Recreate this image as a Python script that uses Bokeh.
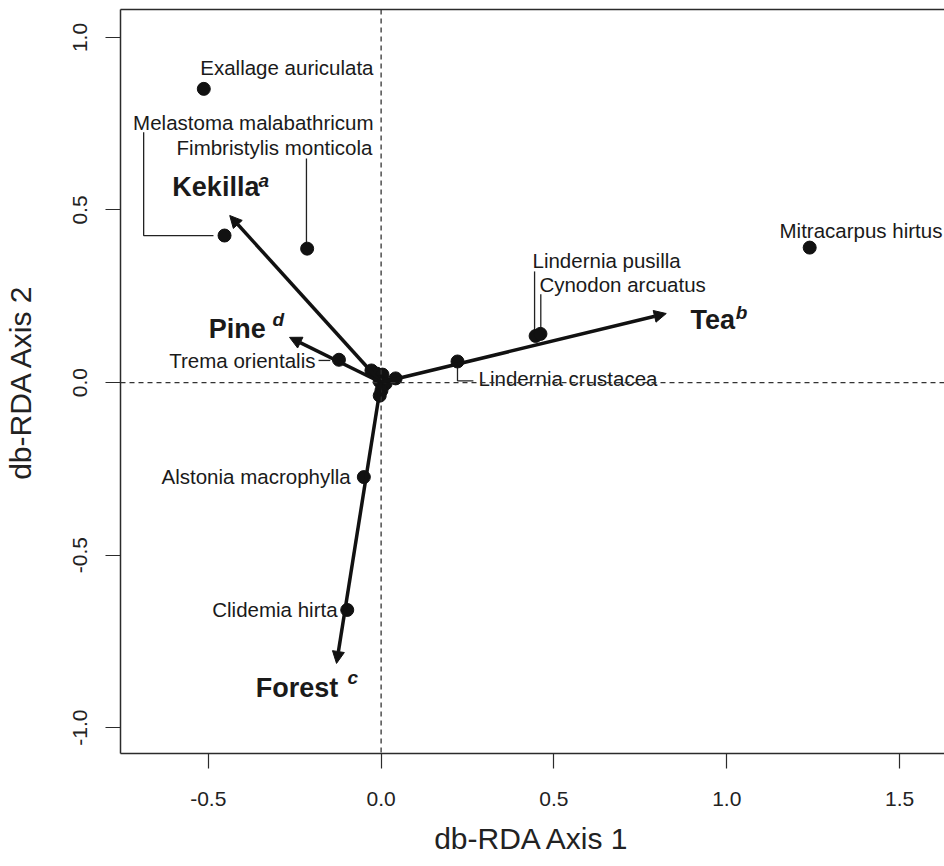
from bokeh.plotting import figure
from bokeh.models import (ColumnDataSource, Span, Arrow, NormalHead, LinearAxis,
                          FixedTicker, Range1d)
from bokeh.core.properties import value
from bokeh.embed import file_html
from bokeh.resources import INLINE

# ---------------- data ----------------
species = ["Exallage auriculata", "Melastoma malabathricum", "Fimbristylis monticola",
           "Mitracarpus hirtus", "Lindernia pusilla", "Cynodon arcuatus",
           "Lindernia crustacea", "Trema orientalis", "Alstonia macrophylla",
           "Clidemia hirta"]
sp_x = [-0.513, -0.453, -0.214, 1.240, 0.447, 0.461, 0.221, -0.122, -0.050, -0.098]
sp_y = [0.851, 0.426, 0.388, 0.391, 0.135, 0.141, 0.061, 0.066, -0.274, -0.659]

# unlabelled species scores close to the origin
other_x = [-0.028, -0.013, 0.004, -0.004, 0.013, 0.001, -0.004, 0.042]
other_y = [0.035, 0.026, 0.023, 0.003, -0.003, -0.023, -0.038, 0.012]

# land-use vectors
sites = ["Kekilla", "Pine", "Tea", "Forest"]
site_sup = ["a", "d", "b", "c"]
site_x = [-0.438, -0.265, 0.825, -0.129]
site_y = [0.484, 0.131, 0.200, -0.814]

x_ticks = [-0.5, 0.0, 0.5, 1.0, 1.5]
x_tick_labels = ["-0.5", "0.0", "0.5", "1.0", "1.5"]
y_ticks = [-1.0, -0.5, 0.0, 0.5, 1.0]
y_tick_labels = ["-1.0", "-0.5", "0.0", "0.5", "1.0"]

x_title = "db-RDA Axis 1"
y_title = "db-RDA Axis 2"

# ---------------- label layout ----------------
FONT = "Liberation Sans"
YPX = 345.0  # pixels per data unit (vertical), used for text baseline correction


def up(fs):
    return 0.4 * fs / YPX


# label anchor (x, baseline y, align)
lab_layout = {
    "Exallage auriculata": (-0.022, 0.890, "right"),
    "Melastoma malabathricum": (-0.022, 0.730, "right"),
    "Fimbristylis monticola": (-0.025, 0.658, "right"),
    "Mitracarpus hirtus": (1.624, 0.417, "right"),
    "Lindernia pusilla": (0.438, 0.330, "left"),
    "Cynodon arcuatus": (0.458, 0.261, "left"),
    "Lindernia crustacea": (0.282, -0.011, "left"),
    "Trema orientalis": (-0.190, 0.041, "right"),
    "Alstonia macrophylla": (-0.088, -0.295, "right"),
    "Clidemia hirta": (-0.126, -0.681, "right"),
}
# site label anchors: (left x, baseline y) and superscript (left x, baseline y)
site_lab = [(-0.604, 0.536), (-0.499, 0.125), (0.895, 0.151), (-0.363, -0.916)]
site_suplab = [(-0.355, 0.562), (-0.314, 0.160), (1.026, 0.181), (-0.097, -0.878)]

pt = dict(zip(species, zip(sp_x, sp_y)))


def leaders():
    xs, ys = [], []
    px, py = pt["Melastoma malabathricum"]
    xs.append([-0.687, -0.687, px - 0.032]); ys.append([0.725, py, py])
    px, py = pt["Fimbristylis monticola"]
    xs.append([px - 0.002, px - 0.002]); ys.append([0.649, py + 0.01])
    px, py = pt["Lindernia pusilla"]
    xs.append([px - 0.003, px - 0.003]); ys.append([0.322, py + 0.005])
    px, py = pt["Cynodon arcuatus"]
    xs.append([px + 0.001, px + 0.001]); ys.append([0.256, py + 0.014])
    px, py = pt["Lindernia crustacea"]
    xs.append([px, px, 0.267]); ys.append([py - 0.019, 0.005, 0.005])
    px, py = pt["Trema orientalis"]
    xs.append([-0.181, px - 0.025]); ys.append([py - 0.002, py - 0.002])
    return xs, ys


# ---------------- figure ----------------
p = figure(width=944, height=866,
           x_range=Range1d(-0.754, 1.630), y_range=Range1d(-1.075, 1.081),
           output_backend="svg", toolbar_location=None,
           min_border_left=120, min_border_right=0, min_border_top=9,
           min_border_bottom=113)
p.grid.visible = False
p.outline_line_color = None
p.background_fill_color = "white"
p.border_fill_color = "white"

AX = "#2b2b2b"
for ax in (p.xaxis[0], p.yaxis[0]):
    ax.axis_line_color = AX
    ax.axis_line_width = 1.5
    ax.major_tick_line_color = AX
    ax.major_tick_line_width = 1.2
    ax.major_tick_out = 15
    ax.major_tick_in = 0
    ax.minor_tick_line_color = None
    ax.major_label_text_font = FONT
    ax.major_label_text_font_size = "21px"
    ax.major_label_text_color = "#222222"
    ax.axis_label_text_font = FONT
    ax.axis_label_text_font_size = "30px"
    ax.axis_label_text_font_style = "normal"
    ax.axis_label_text_color = "#222222"

p.xaxis.ticker = FixedTicker(ticks=x_ticks)
p.xaxis.major_label_overrides = dict(zip(x_ticks, x_tick_labels))
p.yaxis.ticker = FixedTicker(ticks=y_ticks)
p.yaxis.major_label_overrides = dict(zip(y_ticks, y_tick_labels))
p.yaxis.major_label_orientation = "vertical"
p.xaxis.axis_label = x_title
p.yaxis.axis_label = y_title
p.xaxis.major_label_standoff = 23
p.xaxis.axis_label_standoff = 13
p.yaxis.major_label_standoff = 18
p.yaxis.axis_label_standoff = 34

# top border of the box
top = LinearAxis(ticker=FixedTicker(ticks=[]), axis_line_color=AX, axis_line_width=1.5,
                 major_tick_out=0, major_tick_in=0, minor_tick_out=0, minor_tick_in=0,
                 major_label_text_font_size="0px")
p.add_layout(top, "above")

# dashed zero lines
for dim in ("height", "width"):
    p.add_layout(Span(location=0, dimension=dim, line_color="#333333",
                      line_width=1.3, line_dash="5 4"))

# arrows
asrc = ColumnDataSource(dict(x=site_x, y=site_y))
p.add_layout(Arrow(end=NormalHead(size=12, fill_color="#111111", line_color="#111111",
                                  line_width=1),
                   x_start=0, y_start=0, x_end="x", y_end="y", source=asrc,
                   line_color="#111111", line_width=3.5))

# leader lines
lx, ly = leaders()
p.multi_line(lx, ly, line_color="#222222", line_width=1.3)

# points
p.scatter(other_x, other_y, size=13, color="#111111")
p.scatter(sp_x, sp_y, size=13, color="#111111")

# species labels
for align in ("left", "right"):
    names = [s for s in species if lab_layout[s][2] == align]
    src = ColumnDataSource(dict(x=[lab_layout[s][0] for s in names],
                                y=[lab_layout[s][1] + up(20) for s in names], t=names))
    p.text("x", "y", "t", source=src, text_font=value(FONT), text_font_size="20.5px",
           text_align=align, text_baseline="alphabetic", text_color="#1a1a1a")

# site labels with superscripts
ssrc = ColumnDataSource(dict(x=[a for a, b in site_lab],
                             y=[b + up(27) for a, b in site_lab], t=sites))
p.text("x", "y", "t", source=ssrc, text_font=value(FONT), text_font_size="27px",
       text_font_style="bold", text_align="left", text_baseline="alphabetic",
       text_color="#1a1a1a")
supsrc = ColumnDataSource(dict(x=[a for a, b in site_suplab],
                               y=[b + up(19) for a, b in site_suplab], t=site_sup))
p.text("x", "y", "t", source=supsrc, text_font=value(FONT), text_font_size="19px",
       text_font_style="bold italic", text_align="left", text_baseline="alphabetic",
       text_color="#1a1a1a")

open("out.html", "w").write(file_html(p, INLINE))
